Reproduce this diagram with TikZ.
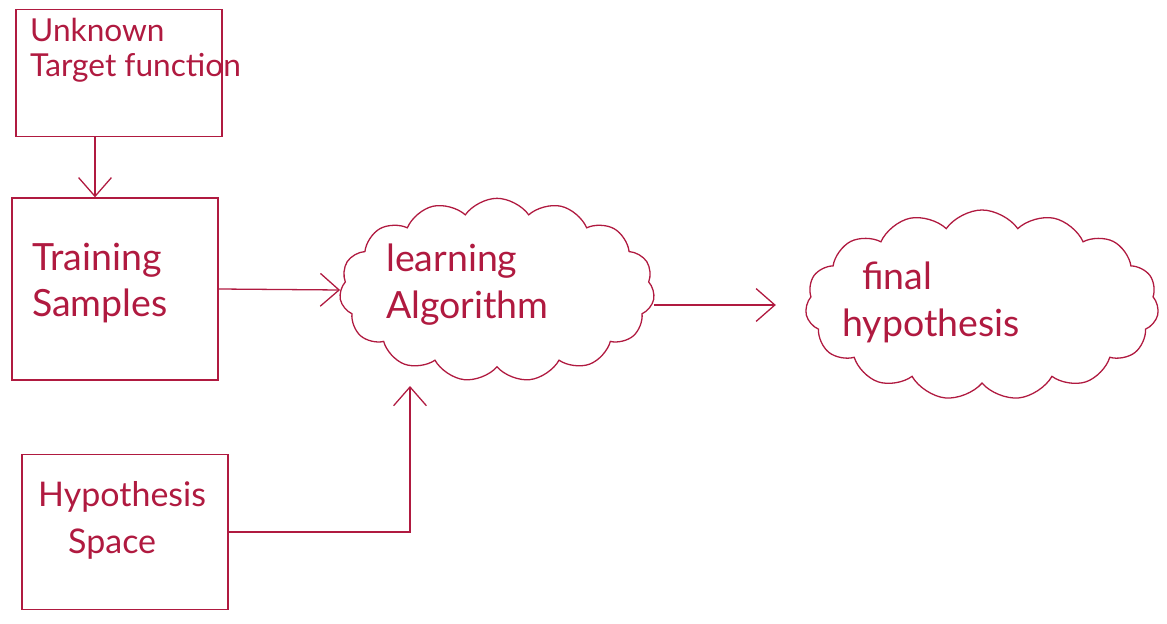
\documentclass[tikz,border=0pt]{standalone}
\usepackage{fontspec}
\setmainfont{Lato}
\usetikzlibrary{shapes.symbols,arrows.meta,calc}
\definecolor{ink}{RGB}{176,26,64}
\begin{document}
\begin{tikzpicture}[x=0.03cm,y=-0.03cm,
  ink line/.style={draw=ink,line width=1.1pt},
  box/.style={ink line,rectangle,inner sep=0pt},
  puffy/.style={ink line,cloud,cloud puffs=15,cloud puff arc=110,aspect=1.7,inner sep=0pt},
  label text/.style={text=ink,align=left,anchor=west,inner sep=0pt,font=\fontsize{32}{40}\selectfont},
  small text/.style={text=ink,align=left,anchor=west,inner sep=0pt,font=\fontsize{27}{30}\selectfont},
  arr/.style={ink line,-{Straight Barb[length=16pt,width=28pt,line width=1.1pt]}}]
\useasboundingbox (0,0) rectangle (1167,624);

% boxes on the left
\node[box,minimum width=6.18cm,minimum height=3.81cm] (target) at (119,73) {};
\node[box,minimum width=6.18cm,minimum height=5.46cm] (train) at (115,289) {};
\node[box,minimum width=6.18cm,minimum height=4.65cm] (hspace) at (125,532) {};

% clouds
\node[puffy,minimum width=9.45cm,minimum height=5.5cm] (learn) at (497,290) {};
\node[puffy,minimum width=10.6cm,minimum height=5.7cm] (final) at (982,305) {};

% labels
\node[small text] (t1) at (30,50) {Unknown\\Target function};
\node[label text] (t2) at (32,283) {Training\\Samples};
\node[label text] (t3) at (386,285) {learning\\Algorithm};
\node[label text] (t4) at (842,302) {\hspace*{0.6cm}final\\hypothesis};
\node[label text,font=\fontsize{29}{40}\selectfont] (t5) at (38,520) {Hypothesis\\\hspace*{0.9cm}Space};

% connectors
\coordinate (down) at ($(target.south)+(-24,0)$);
\draw[arr] (down) -- (down |- train.north);
\draw[arr] (train.east) -- (learn.west);
\coordinate (up) at (410,386);
\draw[arr] (hspace.east) -| (up);
\draw[arr,shorten >=0.9cm] (learn.east |- final.west) -- (final.west);
\end{tikzpicture}
\end{document}
